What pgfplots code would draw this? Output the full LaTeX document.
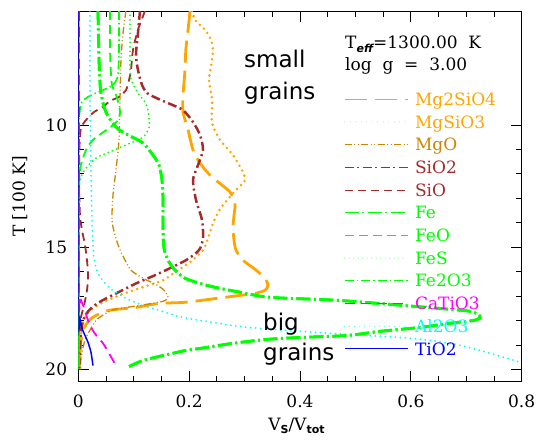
\documentclass[border=0pt]{standalone}
\usepackage{fontspec}
\setmainfont{DejaVu Serif}
\setsansfont{DejaVu Sans}
\usepackage{pgfplots}
\usepackage{pgfplotstable}
\pgfplotsset{compat=1.18}
\definecolor{cOr}{RGB}{255,165,0}
\definecolor{cGold}{RGB}{205,133,0}
\definecolor{cBr}{RGB}{165,42,42}
\definecolor{cLime}{RGB}{0,255,0}
\definecolor{cMag}{RGB}{255,0,255}
\definecolor{cCy}{RGB}{0,255,255}
\definecolor{cBl}{RGB}{0,0,255}
\newcommand\fs[1]{\fontsize{#1}{#1}\selectfont}
\newcommand\sub[1]{\raisebox{-3.5pt}{\fs{11}\sffamily\bfseries #1}}

\pgfplotstableread{
x y
0.0355 5.33
0.0374 7.34
0.0392 8.28
0.0410 8.69
0.0464 9.26
0.0554 9.71
0.0716 10.16
0.0933 10.45
0.1168 10.74
0.1348 11.23
0.1457 11.64
0.1510 12.25
0.1529 13.07
0.1529 14.30
0.1547 15.04
0.1619 15.53
0.1745 15.94
0.1926 16.27
0.2196 16.48
0.2470 16.64
0.2918 16.84
0.3460 17.05
0.4668 17.17
0.5859 17.38
0.6710 17.54
0.7069 17.62
0.7214 17.75
0.7250 17.87
0.7140 17.99
0.6707 18.11
0.6166 18.28
0.5444 18.44
0.4849 18.61
0.4001 18.69
0.3404 18.77
0.2791 18.93
0.2196 19.14
0.1943 19.22
0.1530 19.43
0.1168 19.63
0.0916 19.88
}\feTab

\begin{document}
\begin{tikzpicture}
\useasboundingbox (0,0) rectangle (539pt,441pt);
\begin{axis}[
 scale only axis, width=443.4pt, height=370.4pt,
 at={(78.3pt,59.3pt)}, anchor=south west,
 xmin=0, xmax=0.8, ymin=5.35, ymax=20.5, y dir=reverse,
 xtick={0,0.2,0.4,0.6,0.8}, minor x tick num=3,
 ytick={10,15,20}, minor y tick num=4,
 tick align=inside,
 major tick length=11pt, minor tick length=5.5pt,
 every tick/.style={black, line width=0.9pt},
 axis line style={line width=1.1pt},
 tick label style={font=\fs{17}},
 /pgf/number format/assume math mode=true,
 xticklabel style={/pgf/number format/fixed, inner sep=0pt, anchor=north, yshift=-13pt},
 yticklabel style={inner sep=0pt, anchor=east, xshift=-11pt},
 xlabel={V\sub{S}/V\sub{tot}},
 ylabel={T [100 K]},
 label style={font=\fs{17}},
 xlabel style={at={(axis description cs:0.492,-0.1304)}, anchor=base},
 ylabel style={at={(axis description cs:-0.1304,0.5)}, anchor=center},
 legend cell align=left,
 legend style={at={(0.5992,0.780)}, anchor=north west, draw=none, fill=none,
   inner xsep=0pt, inner ysep=0pt, font=\fs{17},
   cells={anchor=west},
   nodes={inner sep=0pt, text height=12.4pt, text depth=0pt},
   row sep=10.3pt, column sep=7pt},
 legend image code/.code={\draw[#1] (0pt,0pt) -- (63pt,0pt);},
 legend image post style={line width=0.9pt},
 every axis plot/.append style={no markers, smooth, tension=0.45},
]
% Mg2SiO4
\addplot[cOr, line width=2.8pt, dash pattern=on 22pt off 8pt] coordinates {
(0.2016,5.33)(0.198,6.11)(0.194,6.93)(0.1925,7.75)(0.189,8.77)(0.189,9.47)
(0.198,10.2)(0.207,11.02)(0.2196,11.56)(0.2376,12.05)(0.2593,12.46)(0.274,12.75)
(0.2827,13.2)(0.281,13.69)(0.279,14.18)(0.281,14.71)(0.2846,15.12)(0.297,15.53)
(0.3187,15.9)(0.337,16.27)(0.342,16.56)(0.337,16.76)(0.3187,16.89)(0.2918,16.97)
(0.2502,17.09)(0.1943,17.25)(0.1457,17.3)(0.1043,17.46)(0.0556,17.58)(0.0319,17.79)
(0.0193,17.99)(0.0103,18.32)(0.0049,18.81)(0.003,19.43)(0.003,20)};
\addlegendentry{\textcolor{cOr}{Mg2SiO4}}
% MgSiO3
\addplot[cOr, line width=2.8pt, line cap=round, dash pattern=on 0pt off 5.5pt] coordinates {
(0.2055,5.33)(0.2106,5.7)(0.2286,6.11)(0.2394,6.52)(0.243,6.93)(0.2394,7.62)
(0.2358,8.16)(0.2413,8.98)(0.2413,9.92)(0.2557,10.61)(0.2792,11.23)(0.297,11.93)
(0.3007,12.25)(0.2918,12.5)(0.2792,12.79)(0.2557,13.44)(0.243,14.02)(0.234,14.63)
(0.225,15.12)(0.2016,15.61)(0.1745,16.02)(0.153,16.35)(0.1097,16.68)(0.0736,16.97)
(0.0448,17.25)(0.0267,17.5)(0.0139,17.79)(0.0067,18.2)(0.003,19.02)(0.0013,20)};
\addlegendentry{\textcolor{cOr}{MgSiO3}}
% MgO
\addplot[cGold, line width=1.3pt, dash pattern=on 7pt off 2.5pt on 1pt off 2.5pt on 1pt off 2.5pt] coordinates {
(0.086,5.33)(0.0807,6.23)(0.077,7.34)(0.0752,8.98)(0.0734,10.61)(0.068,11.84)
(0.0626,12.87)(0.0608,13.89)(0.0662,14.51)(0.0734,15.0)(0.0825,15.45)(0.0951,15.94)
(0.1168,16.27)(0.1402,16.52)(0.1547,16.76)(0.1619,17.05)(0.1529,17.21)(0.1114,17.38)
(0.0663,17.54)(0.0464,17.75)(0.032,17.99)(0.0229,18.32)(0.0139,18.69)(0.0085,19.1)
(0.0049,19.55)(0.003,20)};
\addlegendentry{\textcolor{cGold}{MgO}}
% SiO2
\addplot[cBr, line width=2.5pt, dash pattern=on 9pt off 3.5pt on 2pt off 3.5pt] coordinates {
(0.1113,5.33)(0.1077,6.23)(0.1041,7.13)(0.1077,7.75)(0.1149,8.36)(0.124,8.69)
(0.1402,8.89)(0.1655,9.14)(0.1889,9.39)(0.207,9.88)(0.2196,10.41)(0.225,11.02)
(0.216,11.64)(0.207,12.25)(0.2124,13.07)(0.2232,13.89)(0.225,14.63)(0.2178,15.12)
(0.1943,15.53)(0.1457,16.07)(0.1043,16.48)(0.0682,16.89)(0.0375,17.25)(0.0193,17.58)
(0.0103,17.91)(0.0049,18.4)(0.003,19.22)(0.0013,20)};
\addlegendentry{\textcolor{cBr}{SiO2}}
% SiO
\addplot[cBr, line width=1.8pt, dash pattern=on 8pt off 5pt] coordinates {
(0.1204,5.33)(0.1077,6.11)(0.0987,6.93)(0.0951,7.75)(0.0915,8.16)(0.0861,8.57)
(0.0734,8.85)(0.0572,9.02)(0.0446,9.26)(0.0283,9.47)(0.0175,9.71)(0.0085,9.96)
(0.003,10.41)(0.0013,12.25)(0.003,13.69)(0.0067,14.3)(0.0121,14.92)(0.0157,15.53)
(0.0175,16.15)(0.0157,16.76)(0.0103,17.38)(0.0049,17.87)(0.0013,18.61)(0.0013,20)};
\addlegendentry{\textcolor{cBr}{SiO}}
% Fe
\addplot[cLime, line width=2.8pt, dash pattern=on 14pt off 3.5pt on 2pt off 3.5pt] table {\feTab};
\addlegendentry{\textcolor{cLime}{Fe}}
% FeO
\addplot[cLime, line width=1.8pt, dash pattern=on 9pt off 5pt] coordinates {
(0.0573,5.33)(0.0573,6.93)(0.059,7.95)(0.0608,8.36)(0.068,8.77)(0.0734,9.18)
(0.0752,9.51)(0.0716,9.8)(0.0608,10.04)(0.0428,10.33)(0.0265,10.61)(0.0157,10.94)
(0.0085,11.35)(0.003,11.84)(0.0013,13.07)(0.0013,20)};
\addlegendentry{\textcolor{cLime}{FeO}}
% FeS
\addplot[cLime, line width=2pt, line cap=round, dash pattern=on 0pt off 4.5pt] coordinates {
(0.0934,5.33)(0.0934,7.75)(0.097,8.24)(0.1077,8.69)(0.1222,9.14)(0.1276,9.67)
(0.1276,10.12)(0.1168,10.49)(0.086,10.82)(0.0555,11.11)(0.032,11.35)(0.0157,11.72)
(0.0049,12.13)(0.0013,13.07)(0.0013,20)};
\addlegendentry{\textcolor{cLime}{FeS}}
% Fe2O3
\addplot[cLime, line width=1.6pt, dash pattern=on 9pt off 3pt on 1.5pt off 3pt] coordinates {
(0.0734,5.33)(0.0734,6.93)(0.0716,7.95)(0.0644,8.32)(0.05,8.52)(0.032,8.69)
(0.0175,8.85)(0.0067,9.06)(0.003,9.39)(0.0013,10.61)(0.0013,20)};
\addlegendentry{\textcolor{cLime}{Fe2O3}}
% CaTiO3
\addplot[cMag, line width=1.8pt, dash pattern=on 10pt off 6pt] coordinates {
(0.0013,5.33)(0.0013,16.76)(0.0049,17.17)(0.0103,17.46)(0.0175,17.99)(0.0283,18.48)
(0.0446,18.93)(0.0554,19.34)(0.0681,19.84)};
\addlegendentry{\textcolor{cMag}{CaTiO3}}
% Al2O3
\addplot[cCy, line width=2pt, line cap=round, dash pattern=on 0pt off 5pt] coordinates {
(0.0211,5.33)(0.0211,8.98)(0.0229,11.84)(0.0247,13.89)(0.0265,14.84)(0.0283,15.45)
(0.0355,16.07)(0.0554,16.64)(0.086,17.09)(0.1168,17.38)(0.1457,17.58)(0.1889,17.87)
(0.2791,18.2)(0.328,18.32)(0.4001,18.44)(0.4903,18.57)(0.5805,18.69)(0.6346,18.81)
(0.6833,18.98)(0.7374,19.3)(0.7987,19.71)(0.815,19.77)};
\addlegendentry{\textcolor{cCy}{Al2O3}}
% TiO2
\addplot[cBl, line width=1.5pt] coordinates {
(0.0004,5.33)(0.0004,17.58)(0.003,17.91)(0.0067,18.32)(0.0121,18.61)(0.0175,18.89)
(0.0229,19.3)(0.0265,19.84)};
\addlegendentry{\textcolor{cBl}{TiO2}}
% Fe redrawn on top of Al2O3
\addplot[cLime, line width=2.8pt, dash pattern=on 14pt off 3.5pt on 2pt off 3.5pt, forget plot] table {\feTab};

\node[anchor=base west, font=\fs{17}, inner sep=0pt] at (axis cs:0.4812,6.885) {T\sub{\itshape eff}=1300.00\ \ K};
\node[anchor=base west, font=\fs{17}, inner sep=0pt] at (axis cs:0.4812,7.787) {log\ \ g\ \ =\ \ 3.00};
\node[anchor=base west, font=\sffamily\fs{23}, inner sep=0pt] at (axis cs:0.299,7.664) {small};
\node[anchor=base west, font=\sffamily\fs{23}, inner sep=0pt] at (axis cs:0.299,8.975) {grains};
\node[anchor=base west, font=\sffamily\fs{23}, inner sep=0pt] at (axis cs:0.3333,18.4) {big};
\node[anchor=base west, font=\sffamily\fs{23}, inner sep=0pt] at (axis cs:0.3333,19.63) {grains};
\end{axis}
\end{tikzpicture}
\end{document}
